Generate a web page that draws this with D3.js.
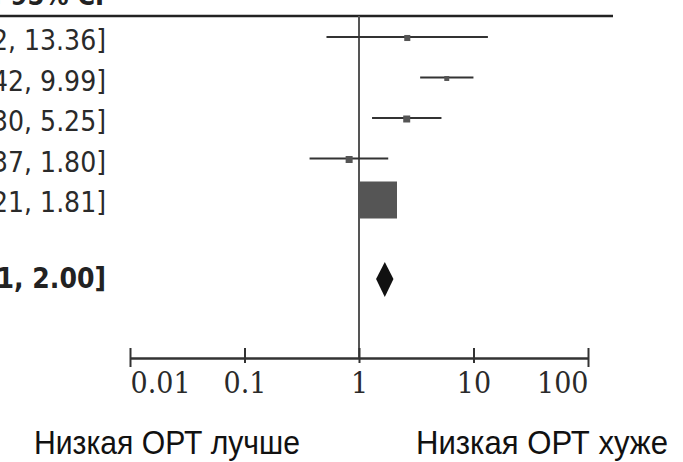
<!DOCTYPE html>
<html>
<head>
<meta charset="utf-8">
<script src="https://cdn.jsdelivr.net/npm/d3@7"></script>
<style>
  body { margin: 0; background: #fff; }
  svg { display: block; }
</style>
</head>
<body>
<div id="chart"></div>
<script>
// study rows (names are cut off in the original crop)
var oddsRatio = [2.64, 5.84, 2.61, 0.82, 1.48];
var ciLower = [0.52, 3.42, 1.30, 0.37, 1.21];
var ciUpper = [13.36, 9.99, 5.25, 1.80, 1.81];
var weights = [2.4, 1.6, 3.2, 3.2, 89.6];

// pooled estimate
var totalOR = 1.68, totalLower = 1.41, totalUpper = 2.00;

var tickValues = [0.01, 0.1, 1, 10, 100];
var tickLabels = ["0.01", "0.1", "1", "10", "100"];
var favoursLeft = "Низкая ОРТ лучше";
var favoursRight = "Низкая ОРТ хуже";

var width = 683, height = 462;

var svg = d3.select("#chart").append("svg")
    .attr("width", width)
    .attr("height", height);

var x = d3.scaleLog().domain([0.01, 100]).range([130, 588]);
var y = d3.scalePoint().domain(d3.range(7)).range([37, 280]);
var size = d3.scaleSqrt().domain([0, d3.max(weights)]).range([0, 37]);

var fmt = d3.format(".2f");

// header (mostly cut off at the top)
svg.append("text")
    .attr("x", 104)
    .attr("y", 5)
    .attr("text-anchor", "end")
    .style("font-family", "'DejaVu Sans Condensed', 'DejaVu Sans'")
    .style("font-weight", "bold")
    .style("font-size", "27px")
    .style("fill", "#222")
    .text("M-H, Fixed, 95% CI");

svg.append("line")
    .attr("x1", 0).attr("x2", 613)
    .attr("y1", 16).attr("y2", 16)
    .style("stroke", "#222")
    .style("stroke-width", 2.5);

// line of no effect
svg.append("line")
    .attr("x1", x(1)).attr("x2", x(1))
    .attr("y1", 16).attr("y2", 358)
    .style("stroke", "#555")
    .style("stroke-width", 2);

// CI text, right aligned so the left part runs off the page
var rows = svg.selectAll(".row")
    .data(oddsRatio)
    .enter().append("g")
    .attr("class", "row");

rows.append("text")
    .attr("x", 106)
    .attr("y", function(d, i) { return y(i) + 13; })
    .attr("text-anchor", "end")
    .style("font-family", "'DejaVu Sans Condensed', 'DejaVu Sans'")
    .style("font-stretch", "condensed")
    .style("font-size", "28px")
    .style("fill", "#2a2a2a")
    .text(function(d, i) { return fmt(d) + " [" + fmt(ciLower[i]) + ", " + fmt(ciUpper[i]) + "]"; });

rows.append("line")
    .attr("x1", function(d, i) { return x(ciLower[i]); })
    .attr("x2", function(d, i) { return x(ciUpper[i]); })
    .attr("y1", function(d, i) { return y(i); })
    .attr("y2", function(d, i) { return y(i); })
    .style("stroke", "#333")
    .style("stroke-width", 2);

rows.append("rect")
    .attr("x", function(d, i) { return x(d) - size(weights[i]) / 2; })
    .attr("y", function(d, i) { return y(i) + 1 - size(weights[i]) / 2; })
    .attr("width", function(d, i) { return size(weights[i]); })
    .attr("height", function(d, i) { return size(weights[i]); })
    .style("fill", "#555");

// total row
svg.append("text")
    .attr("x", 106)
    .attr("y", y(6) + 8)
    .attr("text-anchor", "end")
    .style("font-family", "'DejaVu Sans Condensed', 'DejaVu Sans'")
    .style("font-stretch", "condensed")
    .style("font-weight", "bold")
    .style("font-size", "28px")
    .style("fill", "#222")
    .text(fmt(totalOR) + " [" + fmt(totalLower) + ", " + fmt(totalUpper) + "]");

var yt = y(6) - 1;
svg.append("path")
    .attr("d", "M" + x(totalLower) + "," + yt +
               "L" + x(totalOR) + "," + (yt - 17) +
               "L" + x(totalUpper) + "," + yt +
               "L" + x(totalOR) + "," + (yt + 18) + "Z")
    .style("fill", "#111");

// axis
var axis = d3.axisBottom(x)
    .tickValues(tickValues)
    .tickFormat(function(d, i) { return tickLabels[i]; })
    .tickSizeOuter(0)
    .tickSize(0);

var gx = svg.append("g")
    .attr("transform", "translate(0,358)")
    .call(axis);

gx.select(".domain").style("stroke", "#333").style("stroke-width", 2.5);
gx.selectAll(".tick line")
    .attr("y1", -10)
    .attr("y2", function(d, i) { return (i == 0 || i == tickValues.length - 1) ? 9 : 5; })
    .style("stroke", "#333")
    .style("stroke-width", 2);
gx.selectAll(".tick text")
    .attr("y", 35)
    .attr("dy", 0)
    .attr("text-anchor", function(d, i) { return i == 0 ? "start" : (i == tickValues.length - 1 ? "end" : "middle"); })
    .style("font-family", "'DejaVu Serif Condensed', 'DejaVu Serif'")
    .style("font-stretch", "condensed")
    .style("font-size", "30px")
    .style("fill", "#2a2a2a");

// favours labels
svg.append("text")
    .attr("x", 34)
    .attr("y", 454)
    .attr("textLength", 266)
    .attr("lengthAdjust", "spacingAndGlyphs")
    .style("font-family", "'Liberation Sans', Arial")
    .style("font-size", "33px")
    .style("fill", "#111")
    .text(favoursLeft);

svg.append("text")
    .attr("x", 416)
    .attr("y", 454)
    .attr("textLength", 252)
    .attr("lengthAdjust", "spacingAndGlyphs")
    .style("font-family", "'Liberation Sans', Arial")
    .style("font-size", "33px")
    .style("fill", "#111")
    .text(favoursRight);
</script>
</body>
</html>
